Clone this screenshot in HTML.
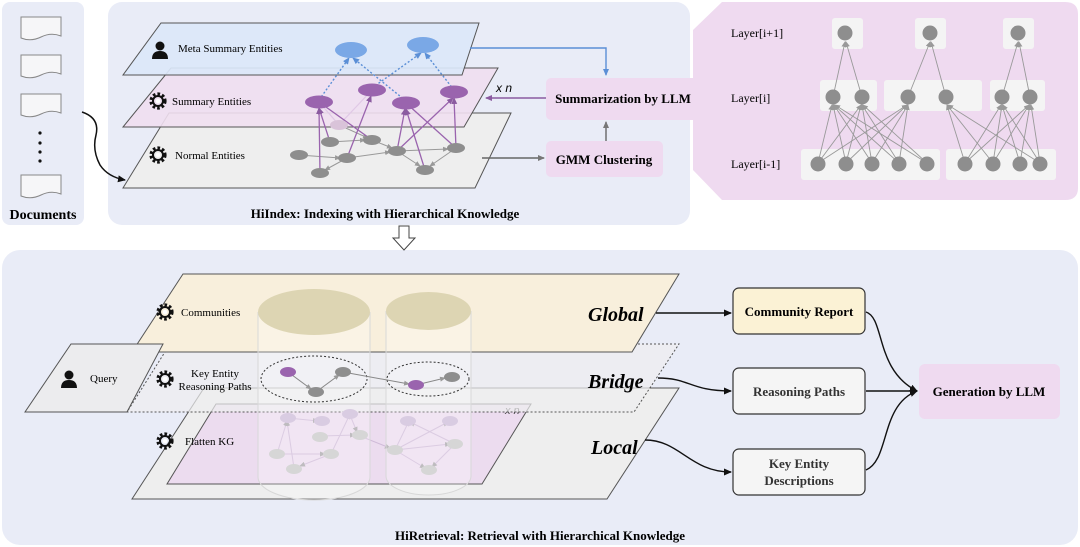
<!DOCTYPE html>
<html><head><meta charset="utf-8"><style>
html,body{margin:0;padding:0;background:#fff;}
svg{display:block;font-family:"Liberation Serif",serif;}
</style></head><body>
<svg width="1080" height="547" viewBox="0 0 1080 547" xmlns="http://www.w3.org/2000/svg">
<defs>
<marker id="ak" markerWidth="8" markerHeight="8" refX="7" refY="4" orient="auto" markerUnits="userSpaceOnUse"><path d="M0,0.5 L8,4 L0,7.5 z" fill="#111"/></marker>
<marker id="ag" markerWidth="7" markerHeight="7" refX="6" refY="3.5" orient="auto" markerUnits="userSpaceOnUse"><path d="M0,0.5 L7,3.5 L0,6.5 z" fill="#777"/></marker>
<marker id="ap" markerWidth="7" markerHeight="7" refX="6" refY="3.5" orient="auto" markerUnits="userSpaceOnUse"><path d="M0,0.5 L7,3.5 L0,6.5 z" fill="#8b5ba0"/></marker>
<marker id="ab" markerWidth="7" markerHeight="7" refX="6" refY="3.5" orient="auto" markerUnits="userSpaceOnUse"><path d="M0,0.5 L7,3.5 L0,6.5 z" fill="#5b8fd6"/></marker>
<marker id="as" markerWidth="6" markerHeight="6" refX="5" refY="3" orient="auto" markerUnits="userSpaceOnUse"><path d="M0,0.5 L6,3 L0,5.5 z" fill="#999"/></marker>
<g id="gear"><circle r="7" fill="none" stroke="#111" stroke-width="3.2" stroke-dasharray="2.6 2"/><circle r="5" fill="none" stroke="#111" stroke-width="2"/><circle r="2.3" fill="#fff"/></g>
<g id="person"><circle cx="0" cy="-5" r="4.5" fill="#111"/><path d="M-8,8 Q-8,0 0,0 Q8,0 8,8 z" fill="#111"/></g>
<g id="doc"><path d="M0,0 H40 V19 Q30,15 20,20 Q10,25 0,21 z" fill="#f6f6f8" stroke="#888" stroke-width="1"/></g>
</defs>

<!-- Panels -->
<rect x="2" y="2" width="82" height="223" rx="8" fill="#e9ecf7"/>
<rect x="108" y="2" width="582" height="223" rx="14" fill="#e9ecf7"/>
<path d="M722,2 H1065 Q1078,2 1078,14 V188 Q1078,200 1065,200 H722 L693,170 V30 z" fill="#efdaf0"/>
<rect x="2" y="250" width="1076" height="295" rx="18" fill="#e9ecf7"/>

<!-- Documents -->
<use href="#doc" x="21" y="17"/><use href="#doc" x="21" y="55"/><use href="#doc" x="21" y="94"/><use href="#doc" x="21" y="175"/>
<g fill="#111"><circle cx="40" cy="133" r="1.6"/><circle cx="40" cy="143" r="1.6"/><circle cx="40" cy="152" r="1.6"/><circle cx="40" cy="161" r="1.6"/></g>
<text x="43" y="219" text-anchor="middle" font-size="14" font-weight="bold">Documents</text>
<path d="M82,112 Q100,118 96,135 Q92,150 100,165 Q108,177 125,180" fill="none" stroke="#111" stroke-width="1.5" marker-end="url(#ak)"/>

<!-- Top layers -->
<path d="M169,113 H511 L475,188 H123 z" fill="#eeeeee" stroke="#555" stroke-width="1"/>
<path d="M171,68 H498 L464,127 H123 z" fill="#efdff0" fill-opacity="0.9" stroke="#555" stroke-width="1"/>
<path d="M161,23 H479 L462,75 H123 z" fill="#dbe7f8" fill-opacity="0.92" stroke="#555" stroke-width="1"/>

<!-- normal graph -->
<g stroke="#999" stroke-width="1" marker-end="url(#as)">
<line x1="299" y1="155" x2="340" y2="158"/><line x1="330" y1="142" x2="365" y2="140"/><line x1="347" y1="158" x2="390" y2="152"/>
<line x1="372" y1="140" x2="392" y2="148"/><line x1="397" y1="151" x2="448" y2="149"/><line x1="397" y1="151" x2="420" y2="166"/>
<line x1="456" y1="148" x2="430" y2="166"/><line x1="347" y1="158" x2="325" y2="170"/><line x1="339" y1="125" x2="368" y2="138"/>
</g>
<g stroke="#e0c8e6" stroke-width="1.2"><line x1="319" y1="102" x2="339" y2="125"/><line x1="372" y1="90" x2="339" y2="125"/></g>
<g stroke="#9a64ae" stroke-width="1.3" marker-end="url(#ap)">
<line x1="320" y1="173" x2="319" y2="108"/><line x1="330" y1="142" x2="319" y2="108"/><line x1="347" y1="158" x2="371" y2="96"/>
<line x1="397" y1="151" x2="405" y2="109"/><line x1="425" y1="170" x2="406" y2="109"/><line x1="397" y1="151" x2="453" y2="98"/><line x1="456" y1="148" x2="454" y2="98"/>
</g>
<g stroke="#9a64ae" stroke-width="1.3"><line x1="319" y1="102" x2="372" y2="140"/><line x1="406" y1="103" x2="456" y2="148"/></g>
<g fill="#8e8e8e"><ellipse cx="299" cy="155" rx="9" ry="5"/><ellipse cx="330" cy="142" rx="9" ry="5"/><ellipse cx="347" cy="158" rx="9" ry="5"/><ellipse cx="372" cy="140" rx="9" ry="5"/><ellipse cx="397" cy="151" rx="9" ry="5"/><ellipse cx="425" cy="170" rx="9" ry="5"/><ellipse cx="456" cy="148" rx="9" ry="5"/><ellipse cx="320" cy="173" rx="9" ry="5"/></g>
<ellipse cx="339" cy="125" rx="9" ry="5" fill="#d9c3d9"/>
<g stroke="#5b8fd6" stroke-width="1.4" stroke-dasharray="2 2" marker-end="url(#ab)">
<line x1="319" y1="100" x2="349" y2="58"/><line x1="406" y1="101" x2="353" y2="58"/><line x1="372" y1="88" x2="421" y2="53"/><line x1="454" y1="90" x2="425" y2="53"/>
</g>
<g fill="#9a64ae"><ellipse cx="319" cy="102" rx="14" ry="6.5"/><ellipse cx="372" cy="90" rx="14" ry="6.5"/><ellipse cx="406" cy="103" rx="14" ry="6.5"/><ellipse cx="454" cy="92" rx="14" ry="6.5"/></g>
<g fill="#7aa8e6"><ellipse cx="351" cy="50" rx="16" ry="8"/><ellipse cx="423" cy="45" rx="16" ry="8"/></g>

<use href="#person" x="160" y="51"/>
<text x="178" y="52" font-size="11">Meta Summary Entities</text>
<use href="#gear" x="158" y="101"/>
<text x="172" y="105" font-size="11">Summary Entities</text>
<use href="#gear" x="158" y="155"/>
<text x="175" y="159" font-size="11">Normal Entities</text>

<!-- right boxes top -->
<rect x="546" y="78" width="154" height="42" rx="5" fill="#efdaf0"/>
<text x="623" y="103" text-anchor="middle" font-size="13" font-weight="bold">Summarization by LLM</text>
<rect x="546" y="141" width="117" height="36" rx="5" fill="#efdaf0"/>
<text x="604" y="164" text-anchor="middle" font-size="13" font-weight="bold">GMM Clustering</text>
<path d="M470,48 H606 V75" fill="none" stroke="#5b8fd6" stroke-width="1.4" marker-end="url(#ab)"/>
<line x1="546" y1="98" x2="486" y2="98" stroke="#8b5ba0" stroke-width="1.4" marker-end="url(#ap)"/>
<text x="496" y="92" font-size="12" font-style="italic" font-family="Liberation Sans,sans-serif">x n</text>
<line x1="606" y1="141" x2="606" y2="122" stroke="#666" stroke-width="1.4" marker-end="url(#ag)"/>
<line x1="482" y1="158" x2="544" y2="158" stroke="#666" stroke-width="1.4" marker-end="url(#ag)"/>
<text x="385" y="218" text-anchor="middle" font-size="13" font-weight="bold">HiIndex: Indexing with Hierarchical Knowledge</text>

<!-- right hierarchy panel -->
<g fill="#f4f4f4"><rect x="832" y="18" width="31" height="31" rx="3"/><rect x="915" y="18" width="31" height="31" rx="3"/><rect x="1003" y="18" width="31" height="31" rx="3"/>
<rect x="820" y="80" width="57" height="31" rx="3"/><rect x="884" y="80" width="98" height="31" rx="3"/><rect x="990" y="80" width="55" height="31" rx="3"/>
<rect x="801" y="149" width="139" height="31" rx="3"/><rect x="946" y="149" width="110" height="31" rx="3"/></g>
<g stroke="#999" stroke-width="0.9" marker-end="url(#as)">
<line x1="833" y1="97" x2="845" y2="42"/><line x1="862" y1="97" x2="846" y2="42"/><line x1="908" y1="97" x2="930" y2="42"/><line x1="946" y1="97" x2="931" y2="42"/><line x1="1002" y1="97" x2="1018" y2="42"/><line x1="1030" y1="97" x2="1019" y2="42"/>
<line x1="818" y1="163" x2="832" y2="105"/><line x1="846" y1="163" x2="833" y2="105"/><line x1="872" y1="163" x2="834" y2="105"/><line x1="899" y1="163" x2="834" y2="105"/><line x1="927" y1="163" x2="835" y2="105"/>
<line x1="818" y1="163" x2="861" y2="105"/><line x1="846" y1="163" x2="861" y2="105"/><line x1="872" y1="163" x2="862" y2="105"/><line x1="899" y1="163" x2="862" y2="105"/><line x1="927" y1="163" x2="863" y2="105"/>
<line x1="818" y1="163" x2="907" y2="105"/><line x1="846" y1="163" x2="907" y2="105"/><line x1="872" y1="163" x2="908" y2="105"/><line x1="899" y1="163" x2="908" y2="105"/>
<line x1="965" y1="163" x2="947" y2="105"/><line x1="993" y1="163" x2="947" y2="105"/><line x1="1040" y1="163" x2="948" y2="105"/>
<line x1="965" y1="163" x2="1001" y2="105"/><line x1="993" y1="163" x2="1002" y2="105"/><line x1="1020" y1="163" x2="1002" y2="105"/><line x1="1040" y1="163" x2="1003" y2="105"/>
<line x1="965" y1="163" x2="1029" y2="105"/><line x1="993" y1="163" x2="1029" y2="105"/><line x1="1020" y1="163" x2="1030" y2="105"/><line x1="1040" y1="163" x2="1031" y2="105"/>
</g>
<g fill="#8e8e8e"><circle cx="845" cy="33" r="7.5"/><circle cx="930" cy="33" r="7.5"/><circle cx="1018" cy="33" r="7.5"/>
<circle cx="833" cy="97" r="7.5"/><circle cx="862" cy="97" r="7.5"/><circle cx="908" cy="97" r="7.5"/><circle cx="946" cy="97" r="7.5"/><circle cx="1002" cy="97" r="7.5"/><circle cx="1030" cy="97" r="7.5"/>
<circle cx="818" cy="164" r="7.5"/><circle cx="846" cy="164" r="7.5"/><circle cx="872" cy="164" r="7.5"/><circle cx="899" cy="164" r="7.5"/><circle cx="927" cy="164" r="7.5"/>
<circle cx="965" cy="164" r="7.5"/><circle cx="993" cy="164" r="7.5"/><circle cx="1020" cy="164" r="7.5"/><circle cx="1040" cy="164" r="7.5"/></g>
<g font-size="12"><text x="731" y="37">Layer[i+1]</text><text x="731" y="102">Layer[i]</text><text x="731" y="168">Layer[i-1]</text></g>

<!-- hollow down arrow -->
<path d="M399,226 H409 V238 H415 L404,250 L393,238 H399 z" fill="#fff" stroke="#444" stroke-width="1"/>

<!-- Bottom layers -->
<path d="M204,388 H679 L607,499 H132 z" fill="#eeeeee" stroke="#555" stroke-width="1"/>
<path d="M216,404 H531 L482,484 H167 z" fill="#ecdcef" stroke="#555" stroke-width="1"/>
<text x="505" y="414" font-size="11" font-style="italic" font-family="Liberation Sans,sans-serif" fill="#444">x n</text>
<path d="M170,344 H679 L634,412 H127 z" fill="#eeeeef" fill-opacity="0.7" stroke="#555" stroke-width="1" stroke-dasharray="2 2"/>
<path d="M183,274 H679 L632,352 H132 z" fill="#f8efdc" stroke="#555" stroke-width="1"/>
<path d="M71,344 H163 L127,412 H25 z" fill="#ececee" stroke="#555" stroke-width="1"/>

<!-- faded local graph -->
<g stroke="#c9b3d3" stroke-width="1" marker-end="url(#as)" opacity="0.8">
<line x1="277" y1="454" x2="287" y2="421"/><line x1="294" y1="468" x2="287" y2="421"/><line x1="331" y1="454" x2="350" y2="414"/>
<line x1="322" y1="436" x2="355" y2="435"/><line x1="277" y1="454" x2="325" y2="454"/><line x1="350" y1="415" x2="357" y2="432"/>
<line x1="331" y1="454" x2="300" y2="466"/><line x1="360" y1="436" x2="390" y2="448"/><line x1="288" y1="418" x2="318" y2="421"/>
<line x1="395" y1="450" x2="409" y2="421"/><line x1="395" y1="450" x2="448" y2="422"/><line x1="455" y1="444" x2="410" y2="422"/>
<line x1="395" y1="450" x2="425" y2="468"/><line x1="455" y1="444" x2="432" y2="467"/><line x1="395" y1="450" x2="450" y2="444"/>
</g>
<g fill="#cdbbd8"><ellipse cx="288" cy="418" rx="8" ry="5"/><ellipse cx="350" cy="414" rx="8" ry="5"/><ellipse cx="322" cy="421" rx="8" ry="5"/><ellipse cx="408" cy="421" rx="8" ry="5"/><ellipse cx="450" cy="421" rx="8" ry="5"/></g>
<g fill="#c8c8c8"><ellipse cx="320" cy="437" rx="8" ry="5"/><ellipse cx="360" cy="435" rx="8" ry="5"/><ellipse cx="277" cy="454" rx="8" ry="5"/><ellipse cx="331" cy="454" rx="8" ry="5"/><ellipse cx="294" cy="469" rx="8" ry="5"/><ellipse cx="395" cy="450" rx="8" ry="5"/><ellipse cx="455" cy="444" rx="8" ry="5"/><ellipse cx="429" cy="470" rx="8" ry="5"/></g>

<!-- cylinders -->
<g fill="#ffffff" fill-opacity="0.25" stroke="#d8d8d8" stroke-width="1">
<path d="M258,312 V477 A56,23 0 0 0 370,477 V312"/>
<path d="M386,311 V476 A42.5,19 0 0 0 471,476 V311"/>
</g>
<ellipse cx="314" cy="312" rx="56" ry="23" fill="#ddd5b3"/>
<ellipse cx="428.5" cy="311" rx="42.5" ry="19" fill="#ddd5b3"/>

<!-- bridge paths -->
<ellipse cx="314" cy="379" rx="53" ry="23" fill="none" stroke="#333" stroke-dasharray="2 2"/>
<ellipse cx="428" cy="379" rx="41" ry="17" fill="none" stroke="#333" stroke-dasharray="2 2"/>
<g stroke="#888" stroke-width="1" marker-end="url(#as)">
<line x1="288" y1="372" x2="311" y2="389"/><line x1="316" y1="392" x2="339" y2="375"/><line x1="343" y1="372" x2="409" y2="384"/><line x1="416" y1="385" x2="445" y2="378"/>
</g>
<g fill="#9a64ae"><ellipse cx="288" cy="372" rx="8" ry="5"/><ellipse cx="416" cy="385" rx="8" ry="5"/></g>
<g fill="#8e8e8e"><ellipse cx="316" cy="392" rx="8" ry="5"/><ellipse cx="343" cy="372" rx="8" ry="5"/><ellipse cx="452" cy="377" rx="8" ry="5"/></g>

<!-- bottom labels -->
<use href="#gear" x="165" y="312"/><text x="181" y="316" font-size="11">Communities</text>
<use href="#gear" x="165" y="379"/><text x="215" y="377" font-size="11" text-anchor="middle">Key Entity</text><text x="215" y="390" font-size="11" text-anchor="middle">Reasoning Paths</text>
<use href="#gear" x="165" y="441"/><text x="185" y="445" font-size="11">Flatten KG</text>
<use href="#person" x="69" y="380"/><text x="90" y="382" font-size="11">Query</text>
<g font-size="20" font-weight="bold" font-style="italic"><text x="588" y="321">Global</text><text x="588" y="388">Bridge</text><text x="591" y="454">Local</text></g>

<!-- right bottom boxes -->
<rect x="733" y="288" width="132" height="46" rx="6" fill="#fbf2d5" stroke="#333" stroke-width="1.2"/>
<text x="799" y="316" text-anchor="middle" font-size="13" font-weight="bold">Community Report</text>
<rect x="733" y="368" width="132" height="46" rx="6" fill="#f5f5f5" stroke="#333" stroke-width="1.2"/>
<text x="799" y="396" text-anchor="middle" font-size="13" font-weight="bold" fill="#333">Reasoning Paths</text>
<rect x="733" y="449" width="132" height="46" rx="6" fill="#f5f5f5" stroke="#333" stroke-width="1.2"/>
<text x="799" y="468" text-anchor="middle" font-size="13" font-weight="bold" fill="#333">Key Entity</text>
<text x="799" y="485" text-anchor="middle" font-size="13" font-weight="bold" fill="#333">Descriptions</text>
<rect x="919" y="364" width="141" height="55" rx="6" fill="#efdaf0"/>
<text x="989" y="396" text-anchor="middle" font-size="13" font-weight="bold">Generation by LLM</text>

<g fill="none" stroke="#111" stroke-width="1.4">
<line x1="656" y1="313" x2="731" y2="313" marker-end="url(#ak)"/>
<path d="M658,378 C690,378 690,391 731,391" marker-end="url(#ak)"/>
<path d="M645,440 C680,440 690,472 731,472" marker-end="url(#ak)"/>
<path d="M866,312 C885,318 875,370 917,391" marker-end="url(#ak)"/>
<line x1="866" y1="391" x2="917" y2="391" marker-end="url(#ak)"/>
<path d="M866,470 C890,460 880,405 917,391" marker-end="url(#ak)"/>
</g>
<text x="540" y="540" text-anchor="middle" font-size="13" font-weight="bold">HiRetrieval: Retrieval with Hierarchical Knowledge</text>
</svg>
</body></html>
